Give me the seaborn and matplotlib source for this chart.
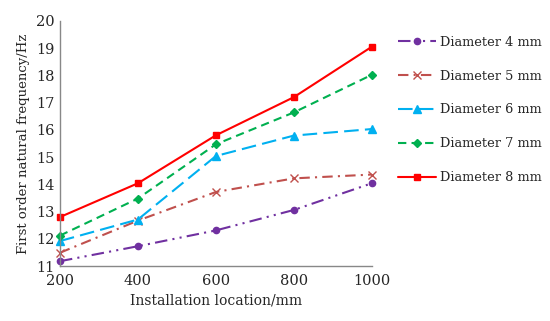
import matplotlib
matplotlib.use("Agg")
import matplotlib.pyplot as plt
import seaborn as sns
import pandas as pd

locations = [200, 400, 600, 800, 1000]
series_names = ["Diameter 4 mm", "Diameter 5 mm", "Diameter 6 mm", "Diameter 7 mm", "Diameter 8 mm"]
d4 = [11.18, 11.73, 12.31, 13.06, 14.04]
d5 = [11.49, 12.67, 13.72, 14.22, 14.36]
d6 = [11.92, 12.71, 15.04, 15.79, 16.03]
d7 = [12.12, 13.48, 15.47, 16.64, 18.02]
d8 = [12.80, 14.04, 15.80, 17.20, 19.05]
values = [d4, d5, d6, d7, d8]

sns.set_style("white")
plt.rcParams["font.family"] = ["DejaVu Serif"]

colors = ["#7030A0", "#C0504D", "#00B0F0", "#00B050", "#FF0000"]
dashes = [(6, 2.5, 1, 2.5, 1, 2.5), (5, 2.5, 1, 2.5), (7, 3), (4, 2.5), None]
markers = ["o", "x", "^", "D", "s"]
msizes = [4.5, 5.5, 5.5, 4.5, 5]

fig = plt.figure(figsize=(5.5, 3.21), dpi=100)
ax = fig.add_axes([0.109, 0.171, 0.567, 0.764])
for name, vals, c, d, m, ms in zip(series_names, values, colors, dashes, markers, msizes):
    df = pd.DataFrame({"loc": locations, "freq": vals})
    sns.lineplot(data=df, x="loc", y="freq", color=c, marker=m, markersize=ms,
                 linewidth=1.5, markeredgewidth=1.0, markeredgecolor=c,
                 ax=ax, clip_on=False, label=name)
    line = ax.get_lines()[-1]
    if d is not None:
        line.set_dashes(d)

ax.set_xlim(200, 1000)
ax.set_ylim(11, 20)
ax.set_xticks(locations)
ax.set_yticks(range(11, 21))
ax.set_xlabel("Installation location/mm", fontsize=10)
ax.set_ylabel("First order natural frequency/Hz", fontsize=9.5)
ax.tick_params(axis="both", labelsize=10.5, direction="in", length=4,
               color="#888888", pad=4)
ax.tick_params(axis="x", pad=6)
for s in ["top", "right"]:
    ax.spines[s].set_visible(False)
for s in ["left", "bottom"]:
    ax.spines[s].set_color("#888888")
    ax.spines[s].set_linewidth(1.0)

leg = ax.legend(loc="upper left", bbox_to_anchor=(1.085, 0.94), frameon=False,
                fontsize=9.3, handlelength=2.9, labelspacing=1.62,
                handletextpad=0.3, borderaxespad=0, borderpad=0)
for h, d in zip(leg.legend_handles, dashes):
    if d is not None:
        h.set_dashes(d)

fig.savefig("out.png", dpi=100)
